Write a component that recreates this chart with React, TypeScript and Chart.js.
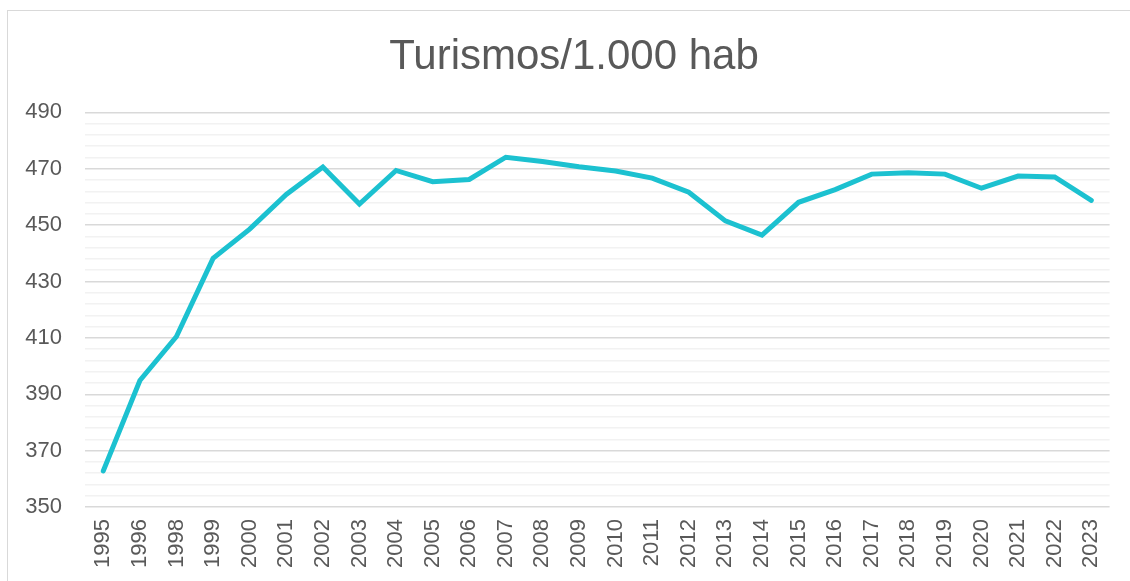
import React, { useEffect, useRef } from "react";
import { Chart, registerables } from "chart.js";

Chart.register(...registerables);

const years = ["1995","1996","1998","1999","2000","2001","2002","2003","2004","2005","2006","2007","2008","2009","2010","2011","2012","2013","2014","2015","2016","2017","2018","2019","2020","2021","2022","2023"];
const turismos = [362.8,394.9,410.5,438.2,448.6,460.9,470.6,457.5,469.4,465.4,466.2,474.1,472.6,470.7,469.2,466.7,461.7,451.5,446.5,458.1,462.6,468.1,468.6,468.1,463.1,467.4,467.1,458.8];
const yMin = 350;
const yMax = 490;
const minorStep = 4;
const majorStep = 20;

const TEXT = "#595959";
const FONT = "'Liberation Sans', Arial, sans-serif";

const titleShift = {
  id: "titleShift",
  afterLayout(chart: any) {
    const t = chart.titleBlock;
    if (t) {
      t.left += 5;
      t.right += 5;
    }
  },
};

export default function App() {
  const ref = useRef<HTMLCanvasElement | null>(null);
  useEffect(() => {
    if (!ref.current) return;
    const chart = new Chart(ref.current, {
      type: "line",
      data: {
        labels: years,
        datasets: [
          {
            data: turismos,
            borderColor: "#1cc1d0",
            borderWidth: 5,
            borderCapStyle: "round",
            borderJoinStyle: "miter",
            pointRadius: 0,
            tension: 0,
            fill: false,
          },
        ],
      },
      plugins: [titleShift],
      options: {
        responsive: false,
        animation: false,
        layout: { padding: { left: 25, right: 17, top: 0, bottom: 0 } },
        plugins: {
          legend: { display: false },
          tooltip: { enabled: false },
          title: {
            display: true,
            text: "Turismos/1.000 hab",
            color: TEXT,
            font: { family: FONT, size: 42, weight: "normal" },
            padding: { top: 32, bottom: 30 },
          },
        },
        scales: {
          x: {
            offset: true,
            grid: { display: false, drawTicks: false },
            border: { display: false },
            ticks: {
              color: TEXT,
              font: { family: FONT, size: 22 },
              minRotation: 90,
              maxRotation: 90,
              autoSkip: false,
              padding: 12,
            },
            afterFit: (s: any) => {
              s.height = 74;
            },
          },
          y: {
            min: yMin,
            max: yMax,
            border: { display: false },
            grid: {
              drawTicks: false,
              color: (ctx: any) =>
                ((ctx.tick?.value ?? 0) - yMin) % majorStep === 0 ? "#d9d9d9" : "#f2f2f2",
              lineWidth: 1.5,
            },
            ticks: {
              stepSize: minorStep,
              autoSkip: false,
              color: TEXT,
              font: { family: FONT, size: 22 },
              padding: 23,
              callback: (v: any) => ((Number(v) - yMin) % majorStep === 0 ? String(v) : ""),
            },
            afterFit: (s: any) => {
              s.width = 60;
            },
          },
        },
      },
    });
    return () => chart.destroy();
  }, []);

  return (
    <div
      style={{
        position: "fixed",
        left: 0,
        top: 0,
        width: 1130,
        height: 581,
        background: "#fff",
        overflow: "hidden",
      }}
    >
      <div
        style={{
          position: "absolute",
          left: 7,
          top: 10,
          width: 1140,
          height: 600,
          border: "1.5px solid #d9d9d9",
          boxSizing: "border-box",
        }}
      />
      <canvas
        ref={ref}
        width={1130}
        height={581}
        style={{ position: "absolute", left: 0, top: 0, width: 1130, height: 581 }}
      />
    </div>
  );
}
